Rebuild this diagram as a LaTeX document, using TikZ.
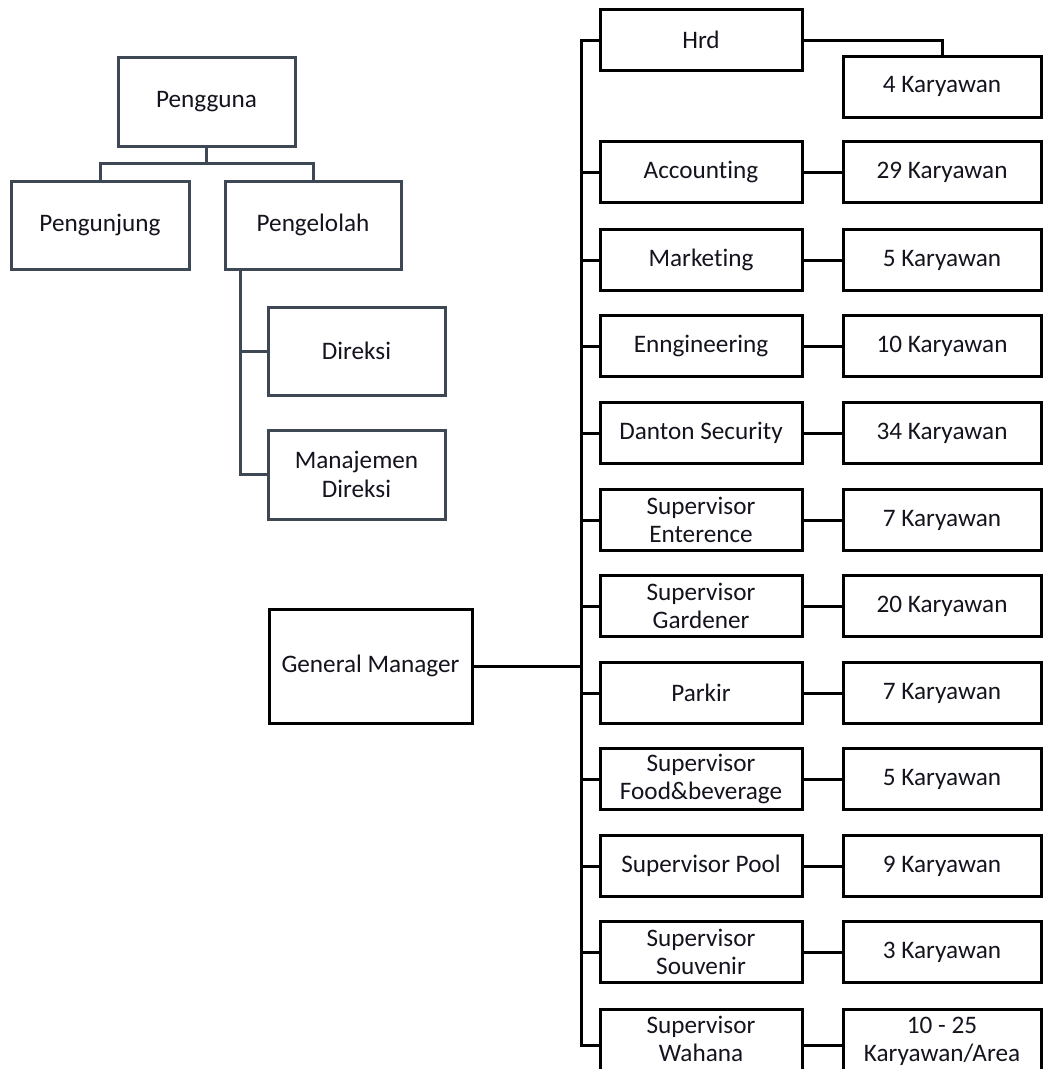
\documentclass[tikz,border=0pt]{standalone}
\usepackage{fontspec}
\setmainfont{Carlito}[Ligatures=NoCommon]
\definecolor{slate}{RGB}{62,72,84}
\definecolor{ink}{RGB}{20,20,30}
\begin{document}
\begin{tikzpicture}[x=1pt,y=-1pt,
  every node/.style={font=\fontsize{25.2}{28.5}\selectfont, text=ink, align=center, inner sep=0pt},
  lbox/.style={draw=slate, line width=3pt, rectangle, minimum width=177pt, minimum height=88pt},
  llink/.style={draw=slate, line width=3pt},
  dept/.style={draw=black, line width=3pt, rectangle, minimum width=202pt, minimum height=61pt},
  staff/.style={draw=black, line width=3pt, rectangle, minimum width=198pt, minimum height=61pt},
  rlink/.style={draw=black, line width=3pt}]
\clip (0,0) rectangle (1043,1069);
\fill[white] (0,0) rectangle (1043,1069);

% user tree
\node[lbox, minimum height=89pt] (pengguna) at (206.5,101.5) {Pengguna};
\node[lbox, minimum width=178pt] (pengunjung) at (100,225) {Pengunjung};
\node[lbox, minimum width=176pt] (pengelolah) at (313,225) {Pengelolah};
\node[lbox] (direksi) at (356.5,351) {Direksi};
\node[lbox, minimum height=89pt] (manajemen) at (356.5,474.5) {Manajemen\\Direksi};

\draw[llink] (pengguna.south) -- ++(0,16) coordinate (fork);
\draw[llink] (fork) -| (pengunjung.north);
\draw[llink] (fork) -| (pengelolah.north);
\coordinate (lspine) at ([xshift=17pt]pengelolah.south west);
\draw[llink] (lspine) |- (manajemen.west);
\draw[llink] (direksi.west) -- (direksi.west -| lspine);

% organisation chart
\node[draw=black, line width=3pt, minimum width=203pt, minimum height=114pt] (gm) at (370.5,666) {General Manager};
\coordinate (spine) at (581,0);

\node[dept] (hrd) at (701,40) {Hrd};
\node[staff] (k0) at (942,86.5) {4 Karyawan};

\node[dept] (d1)  at (701,172) {Accounting};
\node[dept] (d2)  at (701,260) {Marketing};
\node[dept] (d3)  at (701,346) {Enngineering};
\node[dept] (d4)  at (701,433) {Danton Security};
\node[dept] (d5)  at (701,520) {Supervisor\\Enterence};
\node[dept] (d6)  at (701,606) {Supervisor\\Gardener};
\node[dept] (d7)  at (701,693) {Parkir};
\node[dept] (d8)  at (701,779) {Supervisor\\Food\&beverage};
\node[dept] (d9)  at (701,866) {Supervisor Pool};
\node[dept] (d10) at (701,952) {Supervisor\\Souvenir};
\node[dept, minimum height=66pt] (d11) at (701,1042) {\raisebox{3pt}{\begin{tabular}{@{}c@{}}Supervisor\\Wahana\end{tabular}}};

\node[staff] (k1)  at (942,172) {29 Karyawan};
\node[staff] (k2)  at (942,260) {5 Karyawan};
\node[staff] (k3)  at (942,346) {10 Karyawan};
\node[staff] (k4)  at (942,433) {34 Karyawan};
\node[staff] (k5)  at (942,520) {7 Karyawan};
\node[staff] (k6)  at (942,606) {20 Karyawan};
\node[staff] (k7)  at (942,693) {7 Karyawan};
\node[staff] (k8)  at (942,779) {5 Karyawan};
\node[staff] (k9)  at (942,866) {9 Karyawan};
\node[staff] (k10) at (942,952) {3 Karyawan};
\node[staff, minimum height=66pt] (k11) at (942,1042) {\raisebox{3pt}{\begin{tabular}{@{}c@{}}10 - 25\\Karyawan/Area\end{tabular}}};

\draw[rlink] (hrd.west) -- (hrd.west -| spine) -- ([yshift=-3pt]d11.west -| spine) -- ([yshift=-3pt]d11.west);
\foreach \d in {d1,d2,d3,d4,d5,d6,d7,d8,d9,d10}
  \draw[rlink] (\d.west) -- (\d.west -| spine);
\draw[rlink] (gm.east) -- (gm.east -| spine);

\draw[rlink] (hrd.east) -| (k0.north);
\foreach \i in {1,...,10}
  \draw[rlink] (d\i.east) -- (k\i.west);
\draw[rlink] ([yshift=-3pt]d11.east) -- ([yshift=-3pt]k11.west);
\end{tikzpicture}
\end{document}
